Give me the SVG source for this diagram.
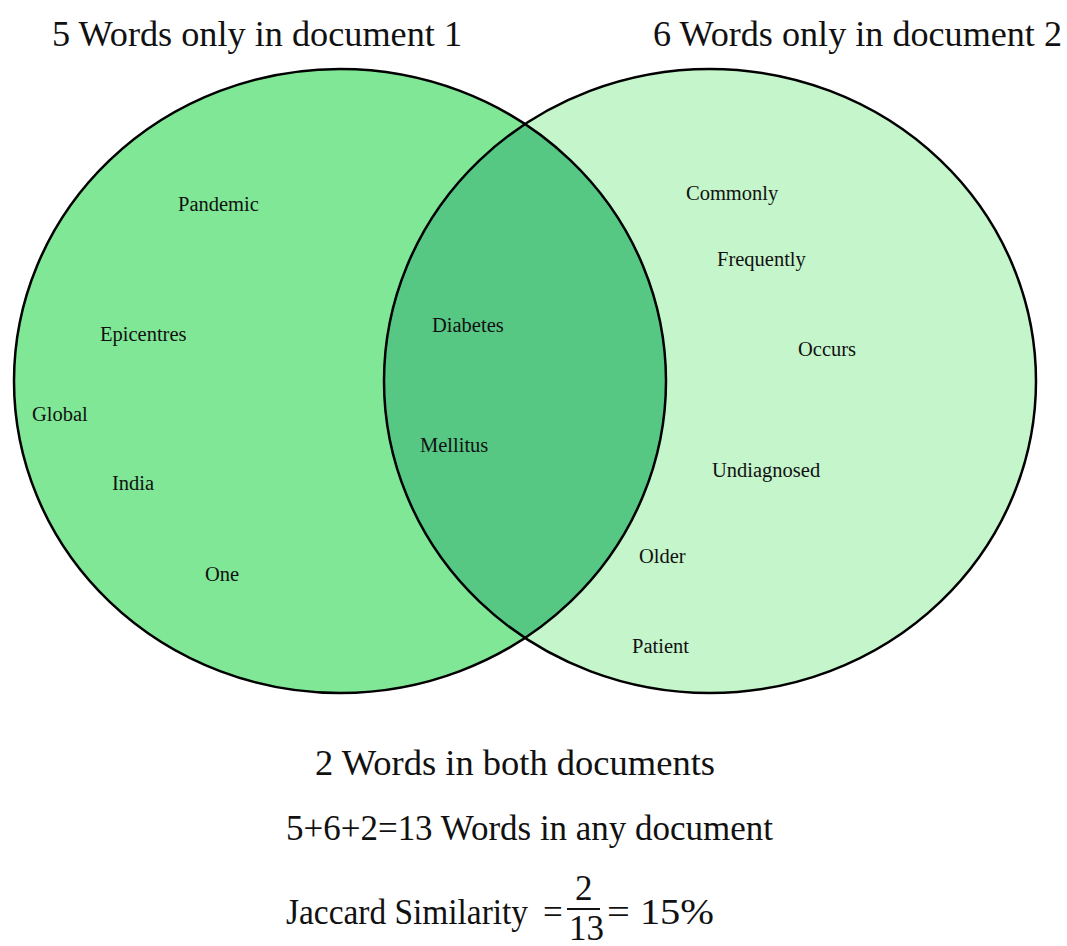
<svg xmlns="http://www.w3.org/2000/svg" width="1067" height="946" viewBox="0 0 1067 946">
<defs>
<style>
.title{font-family:"Liberation Serif","Times New Roman",serif;font-size:35px;fill:#111}
.lbl{font-family:"Liberation Serif","Times New Roman",serif;font-size:20.5px;fill:#111}
.big{font-family:"Liberation Serif","Times New Roman",serif;font-size:35px;fill:#111}
.ring{fill:none;stroke:#000;stroke-width:2.5}
</style>
<clipPath id="clipL"><ellipse cx="340" cy="381" rx="326" ry="312"/></clipPath>
</defs>
<rect width="1067" height="946" fill="#ffffff"/>
<g id="doc1">
<ellipse cx="340" cy="381" rx="326" ry="312" fill="#80e796"/>
</g>
<g id="doc2">
<ellipse cx="710" cy="381" rx="326" ry="312" fill="#c5f5cb"/>
</g>
<g id="both">
<ellipse cx="710" cy="381" rx="326" ry="312" fill="#56c884" clip-path="url(#clipL)"/>
</g>
<g id="outlines">
<ellipse class="ring" cx="340" cy="381" rx="326" ry="312"/>
<ellipse class="ring" cx="710" cy="381" rx="326" ry="312"/>
</g>
<g id="titles">
<text class="title" x="52" y="46" textLength="410" lengthAdjust="spacingAndGlyphs">5 Words only in document 1</text>
<text class="title" x="653" y="46" textLength="409" lengthAdjust="spacingAndGlyphs">6 Words only in document 2</text>
</g>
<g id="words1">
<text class="lbl" x="178" y="211">Pandemic</text>
<text class="lbl" x="100" y="341">Epicentres</text>
<text class="lbl" x="32" y="421">Global</text>
<text class="lbl" x="112" y="490">India</text>
<text class="lbl" x="205" y="581">One</text>
</g>
<g id="wordsBoth">
<text class="lbl" x="432" y="332">Diabetes</text>
<text class="lbl" x="420" y="452">Mellitus</text>
</g>
<g id="words2">
<text class="lbl" x="686" y="200">Commonly</text>
<text class="lbl" x="717" y="266">Frequently</text>
<text class="lbl" x="798" y="356">Occurs</text>
<text class="lbl" x="712" y="477">Undiagnosed</text>
<text class="lbl" x="639" y="563">Older</text>
<text class="lbl" x="632" y="653">Patient</text>
</g>
<g id="summary">
<text class="big" x="286" y="924" font-size="33.5" textLength="242" lengthAdjust="spacingAndGlyphs">Jaccard Similarity</text>
<text class="big" x="543" y="924" font-size="32">=</text>
<text class="big" x="575" y="900" font-size="28">2</text>
<line x1="567" y1="909" x2="600" y2="909" stroke="#111" stroke-width="2"/>
<text class="big" x="569" y="940" font-size="28">13</text>
<text class="big" x="607" y="924" textLength="107" lengthAdjust="spacingAndGlyphs">= 15%</text>
<text class="big" x="315" y="775" textLength="400" lengthAdjust="spacingAndGlyphs">2 Words in both documents</text>
<text class="big" x="286" y="840" textLength="487" lengthAdjust="spacingAndGlyphs">5+6+2=13 Words in any document</text>
</g>
</svg>
